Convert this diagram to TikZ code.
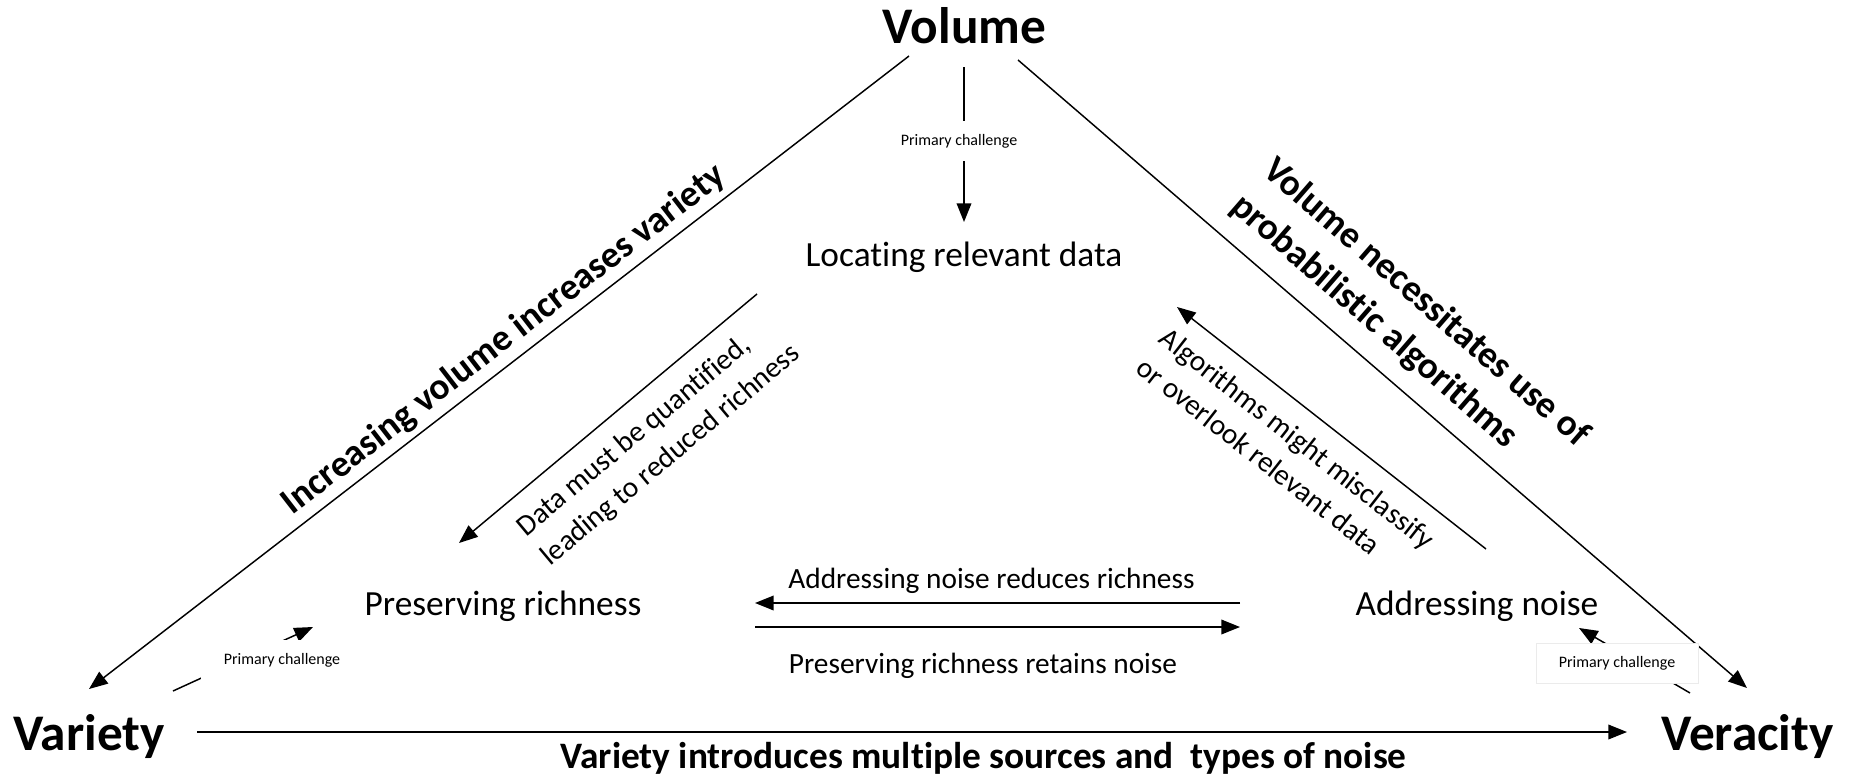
\documentclass[tikz,border=0pt]{standalone}
\usepackage{fontspec}
\setmainfont{Carlito}[Ligatures=NoCommon]
\usetikzlibrary{arrows.meta}

\begin{document}
\begin{tikzpicture}
  [x=0.75pt,y=-0.75pt,line width=1.1pt,>={Triangle[length=14pt,width=11pt]},
   vee/.style={font=\fontsize{38.5}{46}\selectfont\bfseries,inner sep=0pt,anchor=base},
   stage/.style={font=\fontsize{26.5}{32}\selectfont,inner sep=0pt,anchor=base},
   link/.style={font=\fontsize{22}{28.5}\selectfont,inner sep=0pt,align=left},
   side/.style={font=\fontsize{28}{36}\selectfont\bfseries,inner sep=0pt,align=left},
   prim/.style={font=\fontsize{12}{14}\selectfont,fill=white,minimum width=121.5pt,minimum height=30pt}]
  \fill[white] (0,0) rectangle (1852,778);
  \useasboundingbox (0,0) rectangle (1852,778);

  % the three Vs and the challenges
  \node[vee] (volume) at (964.5,43) {Volume};
  \node[vee] (variety) at (89,750) {Variety};
  \node[vee] (veracity) at (1747.5,750) {Veracity};
  \node[stage] (locating) at (964,266) {Locating relevant data};
  \node[stage] (preserving) at (503,615) {Preserving richness};
  \node[stage] (addressing) at (1477,615) {Addressing noise};

  % where the connectors start and stop
  \coordinate (vol-l) at (909,56);
  \coordinate (vol-r) at (1018,60);
  \coordinate (vol-b) at (964,67);
  \coordinate (var-t) at (89,689);
  \coordinate (var-r) at (197,732);
  \coordinate (var-tr) at (173,691);
  \coordinate (ver-t) at (1747,688);
  \coordinate (ver-l) at (1627,732);
  \coordinate (ver-tl) at (1690,693);
  \coordinate (loc-t) at (964,222);
  \coordinate (loc-l) at (757,294);
  \coordinate (loc-r) at (1177,307);
  \coordinate (pre-t) at (459,543);
  \coordinate (pre-r) at (755,603);
  \coordinate (pre-rb) at (755,627);
  \coordinate (pre-bl) at (313,627);
  \coordinate (add-t) at (1486,549);
  \coordinate (add-l) at (1240,603);
  \coordinate (add-lb) at (1240,627);
  \coordinate (add-b) at (1579,628);

  \foreach \from/\to in {vol-l/var-t,vol-r/ver-t,var-r/ver-l,vol-b/loc-t,loc-l/pre-t,
                         add-t/loc-r,add-l/pre-r,pre-rb/add-lb,var-tr/pre-bl,ver-tl/add-b}
    \draw[->] (\from) -- (\to);

  % labels along the edges
  \node[side,rotate=37.7] (incr) at (504,340) {Increasing volume increases variety};
  \node[side,rotate=-41] (prob) at (1410,321) {Volume necessitates use of\\probabilistic algorithms};
  \node[side,anchor=base] (sources) at (983.5,768) {Variety introduces multiple sources and\ \ types of noise};
  \node[link,rotate=39.9] (quant) at (659,441) {Data must be quantified,\\leading to reduced richness};
  \node[link,rotate=-38] (miscl) at (1286,453) {Algorithms might misclassify\\or overlook relevant data};
  \node[link,anchor=base] (reduce) at (991.5,588) {Addressing noise reduces richness};
  \node[link,anchor=base] (retain) at (983,673) {Preserving richness retains noise};

  % primary challenge boxes sit on top of their connectors
  \node[prim] (pc-vol) at (959,141) {Primary challenge};
  \node[prim] (pc-var) at (282,660) {Primary challenge};
  \node[prim,draw=black!8,line width=0.6pt] (pc-ver) at (1617,663) {Primary challenge};
\end{tikzpicture}
\end{document}
